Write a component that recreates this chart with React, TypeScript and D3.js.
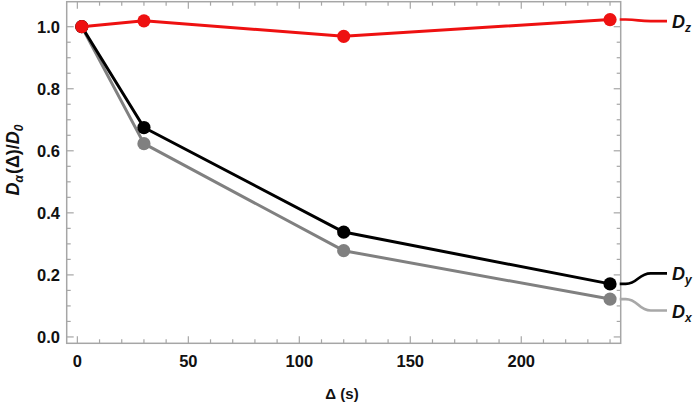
import React, { useEffect, useRef } from "react";
import * as d3 from "d3";

// Lag times (s) and normalised diffusion coefficients
const DELTA = [2, 30, 120, 240];
const DZ = [1.0, 1.019, 0.969, 1.023];
const DY = [1.0, 0.675, 0.338, 0.171];
const DX = [1.0, 0.623, 0.278, 0.122];

// where each right-hand label line ends (in y units)
const LABEL_END = [1.018, 0.205, 0.085];
const LABEL_SUB = ["z", "y", "x"];

const X_TICKS = [0, 50, 100, 150, 200];
const Y_TICKS = [0, 0.2, 0.4, 0.6, 0.8, 1.0];

const SERIES = [
    { name: "Dz", values: DZ, color: "#ee1111", labelColor: "#ee1111" },
    { name: "Dy", values: DY, color: "#000000", labelColor: "#000000" },
    { name: "Dx", values: DX, color: "#808080", labelColor: "#a8a8a8" },
];

const FONT = "'Liberation Sans', Arial, sans-serif";

const App: React.FC = () => {
    const svgRef = useRef<SVGSVGElement>(null);

    useEffect(() => {
        if (!svgRef.current) return;
        const W = 699;
        const H = 404;
        const L = 66.7, R = 620.7, T = 1.7, B = 343.3;

        const svg = d3.select(svgRef.current);
        svg.selectAll("*").remove();
        svg.attr("width", W).attr("height", H).attr("viewBox", `0 0 ${W} ${H}`);

        const x = d3.scaleLinear().domain([-4.8, 244.8]).range([L, R]);
        const y = d3.scaleLinear().domain([-0.0205, 1.0806]).range([B, T]);

        const frameColor = "#a6a6a6";

        // ticks (inside, mirrored on top/right)
        const ticks = svg.append("g").attr("stroke", frameColor).attr("stroke-width", 1.2);
        const xMinor = d3.range(0, 241, 10);
        xMinor.forEach((v) => {
            const len = v % 50 === 0 ? 7 : 4;
            ticks.append("line").attr("x1", x(v)).attr("x2", x(v)).attr("y1", B).attr("y2", B - len);
            ticks.append("line").attr("x1", x(v)).attr("x2", x(v)).attr("y1", T).attr("y2", T + len);
        });
        const yMinor = d3.range(0, 21).map((i) => i * 0.05);
        yMinor.forEach((v, i) => {
            const len = i % 4 === 0 ? 7 : 4;
            ticks.append("line").attr("y1", y(v)).attr("y2", y(v)).attr("x1", L).attr("x2", L + len);
            ticks.append("line").attr("y1", y(v)).attr("y2", y(v)).attr("x1", R).attr("x2", R - len);
        });

        // frame
        svg.append("rect")
            .attr("x", L).attr("y", T)
            .attr("width", R - L).attr("height", B - T)
            .attr("fill", "none")
            .attr("stroke", frameColor)
            .attr("stroke-width", 1.5);

        // tick labels
        svg.append("g").selectAll("text")
            .data(X_TICKS)
            .enter().append("text")
            .attr("x", (d) => x(d))
            .attr("y", 367)
            .attr("text-anchor", "middle")
            .attr("font-family", FONT)
            .attr("font-weight", "bold")
            .attr("font-size", "16.5px")
            .attr("fill", "#111")
            .text((d) => String(d));

        svg.append("g").selectAll("text")
            .data(Y_TICKS)
            .enter().append("text")
            .attr("x", 60)
            .attr("y", (d) => y(d) + 6)
            .attr("text-anchor", "end")
            .attr("font-family", FONT)
            .attr("font-weight", "bold")
            .attr("font-size", "16.5px")
            .attr("fill", "#111")
            .text((d) => d.toFixed(1));

        // axis titles
        svg.append("text")
            .attr("x", 342)
            .attr("y", 399)
            .attr("text-anchor", "middle")
            .attr("font-family", FONT)
            .attr("font-weight", "bold")
            .attr("font-size", "15px")
            .attr("fill", "#111")
            .text("Δ (s)");

        const yt = svg.append("text")
            .attr("transform", "translate(19,160) rotate(-90)")
            .attr("text-anchor", "middle")
            .attr("font-family", FONT)
            .attr("font-weight", "bold")
            .attr("font-size", "18px")
            .attr("fill", "#111");
        yt.append("tspan").attr("font-style", "italic").text("D");
        yt.append("tspan").attr("font-style", "italic").attr("font-size", "12px").attr("dy", 4).text("α");
        yt.append("tspan").attr("dy", -4).attr("dx", 1).text("(Δ)/");
        yt.append("tspan").attr("font-style", "italic").text("D");
        yt.append("tspan").attr("font-style", "italic").attr("font-size", "12px").attr("dy", 4).text("0");

        // series: Dx underneath, then Dy, then Dz
        const line = d3.line<number>()
            .x((_d, i) => x(DELTA[i]))
            .y((d) => y(d));

        const order = [2, 1, 0];
        order.forEach((si) => {
            const s = SERIES[si];
            const g = svg.append("g");
            g.append("path")
                .datum(s.values)
                .attr("fill", "none")
                .attr("stroke", s.color)
                .attr("stroke-width", 3)
                .attr("stroke-linejoin", "round")
                .attr("d", line);
            g.selectAll("circle")
                .data(s.values)
                .enter().append("circle")
                .attr("cx", (_d, i) => x(DELTA[i]))
                .attr("cy", (d) => y(d))
                .attr("r", 6.6)
                .attr("fill", s.color);
        });

        // right-hand labels with curved leader lines
        SERIES.forEach((s, si) => {
            const y0 = y(s.values[s.values.length - 1]);
            const y1 = y(LABEL_END[si]);
            const x0 = R - 1, xa = R + 5, xb = R + 30, xe = 667;
            const xm = (xa + xb) / 2;
            svg.append("path")
                .attr("d", `M${x0},${y0} L${xa},${y0} C${xm},${y0} ${xm},${y1} ${xb},${y1} L${xe},${y1}`)
                .attr("fill", "none")
                .attr("stroke", s.labelColor)
                .attr("stroke-width", 2.6);
            const t = svg.append("text")
                .attr("x", 672)
                .attr("y", y1 + 7)
                .attr("font-family", FONT)
                .attr("font-weight", "bold")
                .attr("font-style", "italic")
                .attr("font-size", "18px")
                .attr("fill", "#111");
            t.append("tspan").text("D");
            t.append("tspan").attr("font-size", "12px").attr("dy", 4).text(LABEL_SUB[si]);
        });
    }, []);

    return (
        <svg
            ref={svgRef}
            style={{ position: "absolute", left: 0, top: 0, background: "#fff" }}
        />
    );
};

export default App;
